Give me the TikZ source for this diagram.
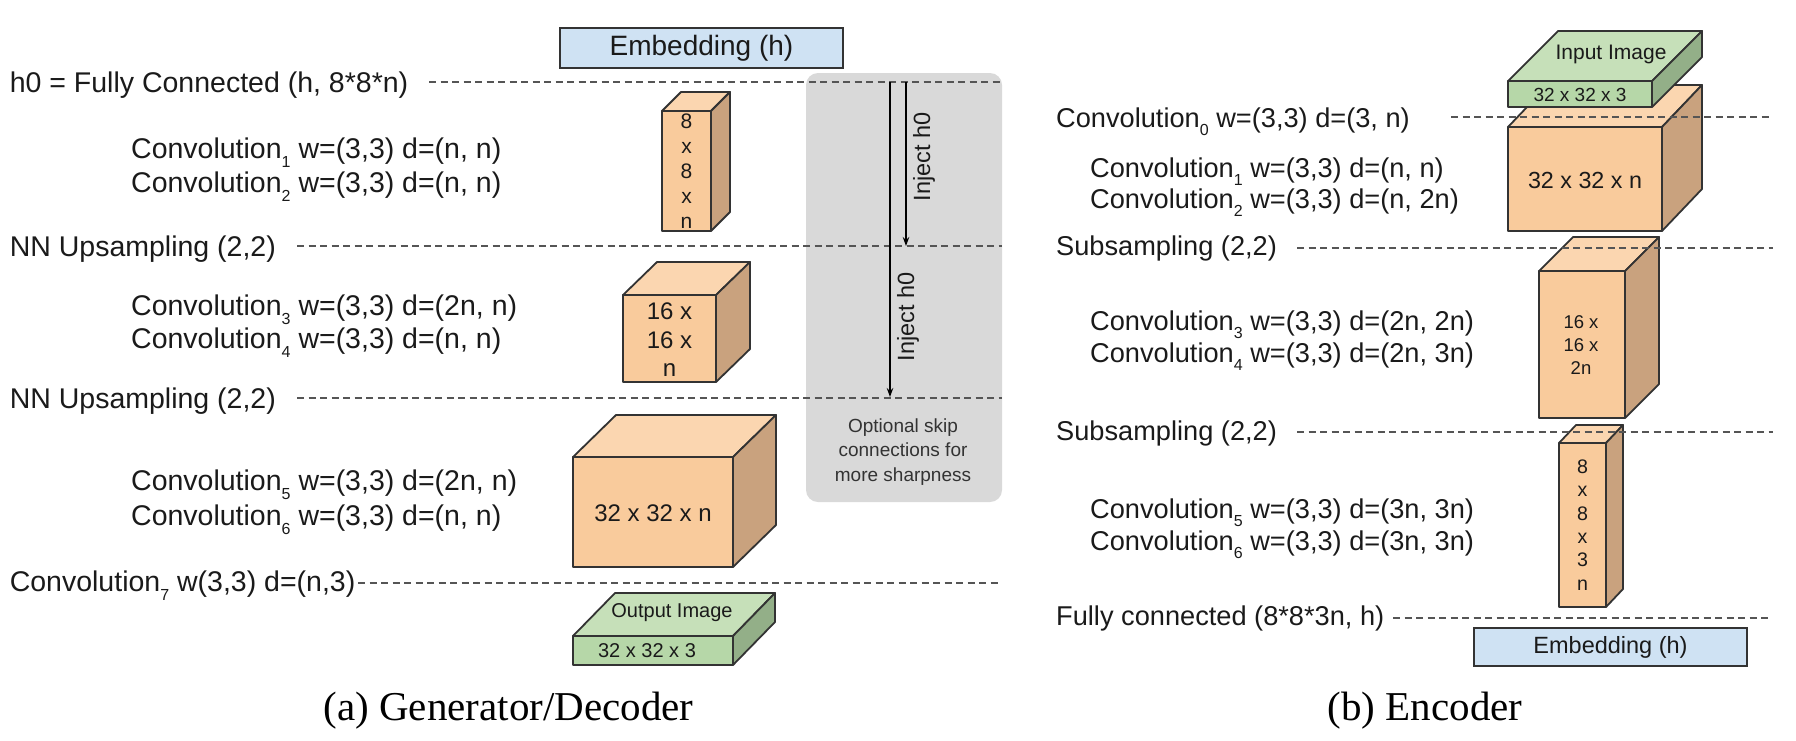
\documentclass[tikz,border=0pt]{standalone}
\usepackage{fontspec}
\setmainfont{Liberation Sans}
\newfontfamily\capfont{Liberation Serif}
\usetikzlibrary{arrows.meta}
\definecolor{ofront}{HTML}{F9CB9C}
\definecolor{otop}{HTML}{FBD6B0}
\definecolor{oside}{HTML}{C9A27E}
\definecolor{gfront}{HTML}{B6D7A8}
\definecolor{gtop}{HTML}{C6E0B9}
\definecolor{gside}{HTML}{93AF88}
\definecolor{emb}{HTML}{CFE2F3}
\definecolor{panelgray}{HTML}{D9D9D9}
\definecolor{edge}{HTML}{333333}
\definecolor{dashc}{HTML}{555555}
\definecolor{txt}{HTML}{1A1A1A}
% front top-left (x1,y1), front bottom-right (x2,y2), depth (dx,dy), colours
\newcommand{\mycuboid}[9]{%
  \filldraw[cubeedge,fill=#7] (#1,#2) rectangle (#3,#4);
  \filldraw[cubeedge,fill=#8] (#1,#2) -- ({#1+#5},{#2-#6}) -- ({#3+#5},{#2-#6}) -- (#3,#2) -- cycle;
  \filldraw[cubeedge,fill=#9] (#3,#2) -- ({#3+#5},{#2-#6}) -- ({#3+#5},{#4-#6}) -- (#3,#4) -- cycle;
}
\newcommand{\sbs}[1]{\raisebox{-0.32em}{\fontsize{16}{16}\selectfont #1}}
\begin{document}
\begin{tikzpicture}[x=1pt,y=-1pt,
  lbl/.style={font=\fontsize{28.5}{34}\selectfont, anchor=base west, inner sep=0pt, text=txt},
  rlbl/.style={font=\fontsize{27.2}{32}\selectfont, anchor=base west, inner sep=0pt, text=txt},
  sepline/.style={draw=dashc, line width=1.8pt, dash pattern=on 7pt off 4.5pt},
  cubeedge/.style={draw=edge, line width=1.8pt, line join=round},
  boxtxt/.style={inner sep=0pt, align=center, text=txt},
  embbox/.style={draw=edge, line width=1.8pt, fill=emb, inner sep=0pt, text=txt},
  injarrow/.style={draw=black, line width=1.3pt, -{Stealth[length=9pt,width=6.5pt]}},
  injlbl/.style={rotate=90, font=\fontsize{23.5}{28}\selectfont, inner sep=0pt, text=txt},
  captxt/.style={font=\capfont\fontsize{41}{48}\selectfont, anchor=base, inner sep=0pt, text=black}]
\useasboundingbox (0,0) rectangle (1796,740);

% ---------------- (a) Generator / Decoder ----------------
\fill[panelgray, rounded corners=12pt] (806,73) rectangle (1002,502);

\node[embbox, minimum width=283pt, minimum height=40pt, font=\fontsize{28}{33}\selectfont] (embA) at (701.5,48) {Embedding (h)};

\mycuboid{662}{111}{711}{231}{19}{19}{ofront}{otop}{oside}
\node[boxtxt, font=\fontsize{21}{25}\selectfont] (c8) at (686.5,171) {8\\x\\8\\x\\n};

\mycuboid{623}{295}{716}{382}{34}{33}{ofront}{otop}{oside}
\node[boxtxt, font=\fontsize{24}{28.5}\selectfont] (c16) at (669.5,340) {16 x\\16 x\\n};

\mycuboid{573}{457}{733}{567}{43}{42}{ofront}{otop}{oside}
\node[boxtxt, font=\fontsize{24}{28}\selectfont] (c32) at (653,513) {32 x 32 x n};

\mycuboid{573}{636}{733}{665}{42}{43}{gfront}{gtop}{gside}
\node[boxtxt, font=\fontsize{20}{24}\selectfont] (outA) at (672,613) {Output Image};
\node[boxtxt, font=\fontsize{20}{24}\selectfont] (outB) at (647,650.5) {32 x 32 x 3};

\node[lbl] (l0) at (9.6,92) {h0 = Fully Connected (h, 8*8*n)};
\node[lbl] (l1) at (131,158) {Convolution\sbs{1} w=(3,3) d=(n, n)};
\node[lbl] (l2) at (131,192) {Convolution\sbs{2} w=(3,3) d=(n, n)};
\node[lbl] (l3) at (9.6,256) {NN Upsampling (2,2)};
\node[lbl] (l4) at (131,315) {Convolution\sbs{3} w=(3,3) d=(2n, n)};
\node[lbl] (l5) at (131,348) {Convolution\sbs{4} w=(3,3) d=(n, n)};
\node[lbl] (l6) at (9.6,408) {NN Upsampling (2,2)};
\node[lbl] (l7) at (131,490) {Convolution\sbs{5} w=(3,3) d=(2n, n)};
\node[lbl] (l8) at (131,525) {Convolution\sbs{6} w=(3,3) d=(n, n)};
\node[lbl] (l9) at (9.6,591) {Convolution\sbs{7} w(3,3) d=(n,3)};

\coordinate (a0s) at (429,82);  \coordinate (a0e) at (1002,82);
\coordinate (a1s) at (297,246); \coordinate (a1e) at (1002,246);
\coordinate (a2s) at (297,398); \coordinate (a2e) at (1002,398);
\coordinate (a3s) at (358,583); \coordinate (a3e) at (1002,583);
\draw[sepline] (a0s) -- (a0e);
\draw[sepline] (a1s) -- (a1e);
\draw[sepline] (a2s) -- (a2e);
\draw[sepline] (a3s) -- (a3e);

\coordinate (i1s) at (906,82); \coordinate (i1e) at (906,246);
\coordinate (i2s) at (890,82); \coordinate (i2e) at (890,397);
\draw[injarrow] (i1s) -- (i1e);
\draw[injarrow] (i2s) -- (i2e);
\node[injlbl] (inj1) at (924,157) {Inject h0};
\node[injlbl] (inj2) at (908,317) {Inject h0};
\node[boxtxt, font=\fontsize{19}{24.5}\selectfont, text=edge] (skip) at (903,452) {Optional skip\\connections for\\more sharpness};

\node[captxt] (capA) at (508.5,720) {(a) Generator/Decoder};

% ---------------- (b) Encoder ----------------
\mycuboid{1508}{127}{1662}{231}{40}{42}{ofront}{otop}{oside}
\node[boxtxt, font=\fontsize{23.3}{28}\selectfont] (e32) at (1585,180) {32 x 32 x n};
\mycuboid{1508}{81}{1652}{107}{50}{50}{gfront}{gtop}{gside}
\node[boxtxt, font=\fontsize{21}{25}\selectfont] (inA) at (1611,54) {Input Image};
\node[boxtxt, font=\fontsize{19}{23}\selectfont] (inB) at (1580,94.5) {32 x 32 x 3};

\mycuboid{1539}{271}{1625}{418}{34}{34}{ofront}{otop}{oside}
\node[boxtxt, font=\fontsize{18.5}{23}\selectfont] (e16) at (1581,345) {16 x\\16 x\\2n};

\mycuboid{1559}{443}{1606}{607}{17}{18}{ofront}{otop}{oside}
\node[boxtxt, font=\fontsize{19.6}{23.4}\selectfont] (e8) at (1582.5,525) {8\\x\\8\\x\\3\\n};

\node[embbox, minimum width=273pt, minimum height=38pt, font=\fontsize{23.5}{28}\selectfont] (embB) at (1610.5,647) {Embedding (h)};

\node[rlbl] (r0) at (1056,127) {Convolution\sbs{0} w=(3,3) d=(3, n)};
\node[rlbl] (r1) at (1090,177) {Convolution\sbs{1} w=(3,3) d=(n, n)};
\node[rlbl] (r2) at (1090,208) {Convolution\sbs{2} w=(3,3) d=(n, 2n)};
\node[rlbl] (r3) at (1056,255) {Subsampling (2,2)};
\node[rlbl] (r4) at (1090,330) {Convolution\sbs{3} w=(3,3) d=(2n, 2n)};
\node[rlbl] (r5) at (1090,362) {Convolution\sbs{4} w=(3,3) d=(2n, 3n)};
\node[rlbl] (r6) at (1056,440) {Subsampling (2,2)};
\node[rlbl] (r7) at (1090,518) {Convolution\sbs{5} w=(3,3) d=(3n, 3n)};
\node[rlbl] (r8) at (1090,550) {Convolution\sbs{6} w=(3,3) d=(3n, 3n)};
\node[rlbl] (r9) at (1056,625) {Fully connected (8*8*3n, h)};

\coordinate (b0s) at (1451,117); \coordinate (b0e) at (1773,117);
\coordinate (b1s) at (1297,248); \coordinate (b1e) at (1773,248);
\coordinate (b2s) at (1297,432); \coordinate (b2e) at (1773,432);
\coordinate (b3s) at (1393,618); \coordinate (b3e) at (1768,618);
\draw[sepline] (b0s) -- (b0e);
\draw[sepline] (b1s) -- (b1e);
\draw[sepline] (b2s) -- (b2e);
\draw[sepline] (b3s) -- (b3e);

\node[captxt] (capB) at (1425,720) {(b) Encoder};
\end{tikzpicture}
\end{document}
